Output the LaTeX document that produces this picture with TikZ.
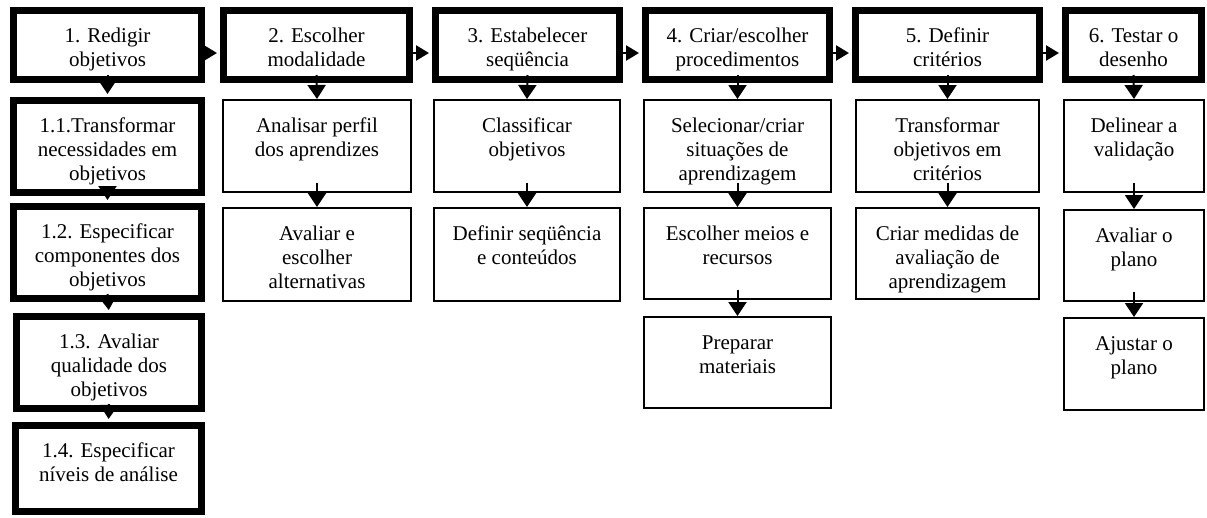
\documentclass[tikz,border=0pt]{standalone}
\usepackage{fontspec}
\setmainfont{Liberation Serif}
\usetikzlibrary{arrows.meta}
\newcommand{\bt}[4]{\parbox[c][#2pt][t]{#1pt}{\centering\rule{0pt}{#3pt}#4}}
\tikzset{
  bigbox/.style={draw, line width=7pt, inner sep=0pt, fill=white},
  smallbox/.style={draw, line width=2pt, inner sep=0pt, fill=white},
  varr/.style={-{Triangle[width=18pt,length=14pt]}, line width=2pt},
  harr/.style={-{Triangle[width=15pt,length=13pt]}, line width=2.5pt},
}
\begin{document}
\begin{tikzpicture}[x=1pt,y=-1pt,font=\fontsize{21}{24}\selectfont]
\useasboundingbox (0,0) rectangle (1207,517);
% top row
\node[bigbox] (b1) at (107.5,45) {\bt{188}{69}{31.5}{1. Redigir\\objetivos}};
\node[bigbox] (b2) at (316.5,45) {\bt{186}{69}{31.5}{2. Escolher\\modalidade}};
\node[bigbox] (b3) at (527.5,45) {\bt{184}{69}{31.5}{3. Estabelecer\\seqüência}};
\node[bigbox] (b4) at (737.5,45) {\bt{184}{69}{31.5}{4. Criar/escolher\\procedimentos}};
\node[bigbox] (b5) at (947.5,45) {\bt{184}{69}{31.5}{5. Definir\\critérios}};
\node[bigbox] (b6) at (1133.5,45) {\bt{136}{69}{31.5}{6. Testar o\\desenho}};
% column 1
\node[bigbox] (s11) at (107.5,146.5) {\bt{188}{92}{31.5}{1.1.Transformar\\necessidades em\\objetivos}};
\node[bigbox] (s12) at (107.5,252.5) {\bt{188}{92}{31.5}{1.2. Especificar\\componentes dos\\objetivos}};
\node[bigbox] (s13) at (109,362.5) {\bt{185}{92}{31.5}{1.3. Avaliar\\qualidade dos\\objetivos}};
\node[bigbox] (s14) at (108.5,468.5) {\bt{186}{86}{31.5}{1.4. Especificar\\níveis de análise}};
% column 2
\node[smallbox] (s21) at (317,146) {\bt{188}{92}{32}{Analisar perfil\\dos aprendizes}};
\node[smallbox] (s22) at (317,254.5) {\bt{188}{93}{32}{Avaliar e\\escolher\\alternativas}};
% column 3
\node[smallbox] (s31) at (527,146) {\bt{186}{92}{32}{Classificar\\objetivos}};
\node[smallbox] (s32) at (527,254.5) {\bt{186}{93}{32}{Definir seqüência\\e conteúdos}};
% column 4
\node[smallbox] (s41) at (737.5,146) {\bt{187}{92}{32}{Selecionar/criar\\situações de\\aprendizagem}};
\node[smallbox] (s42) at (737.5,253.5) {\bt{187}{91}{32}{Escolher meios e\\recursos}};
\node[smallbox] (s43) at (737.5,362.5) {\bt{187}{91}{32}{Preparar\\materiais}};
% column 5
\node[smallbox] (s51) at (947.5,146) {\bt{183}{92}{32}{Transformar\\objetivos em\\critérios}};
\node[smallbox] (s52) at (947.5,253.5) {\bt{183}{91}{32}{Criar medidas de\\avaliação de\\aprendizagem}};
% column 6
\node[smallbox] (s61) at (1134,146) {\bt{140}{92}{32}{Delinear a\\validação}};
\node[smallbox] (s62) at (1134,255.5) {\bt{140}{91}{32}{Avaliar o\\plano}};
\node[smallbox] (s63) at (1134,364) {\bt{140}{92}{32}{Ajustar o\\plano}};
% horizontal arrows
\foreach \a/\b in {b1/b2,b2/b3,b3/b4,b4/b5,b5/b6}
  \draw[harr, shorten >=3pt] ([yshift=-8pt]\a.east) -- ([yshift=-8pt]\b.west);
% vertical arrows
\foreach \a/\b in {b1/s11,s11/s12,s12/s13,s13/s14}
  \draw[varr, shorten >=3pt] ([yshift=8pt]\a.south) -- (\b.north);
\foreach \a/\b in {b2/s21,b3/s31,b4/s41,b5/s51,b6/s61}
  \draw[varr] ([yshift=8pt]\a.south) -- (\b.north);
\foreach \a/\b in {s21/s22,s31/s32,s41/s42,s42/s43,s51/s52,s61/s62,s62/s63}
  \draw[varr] ([yshift=10pt]\a.south) -- (\b.north);
\end{tikzpicture}
\end{document}
